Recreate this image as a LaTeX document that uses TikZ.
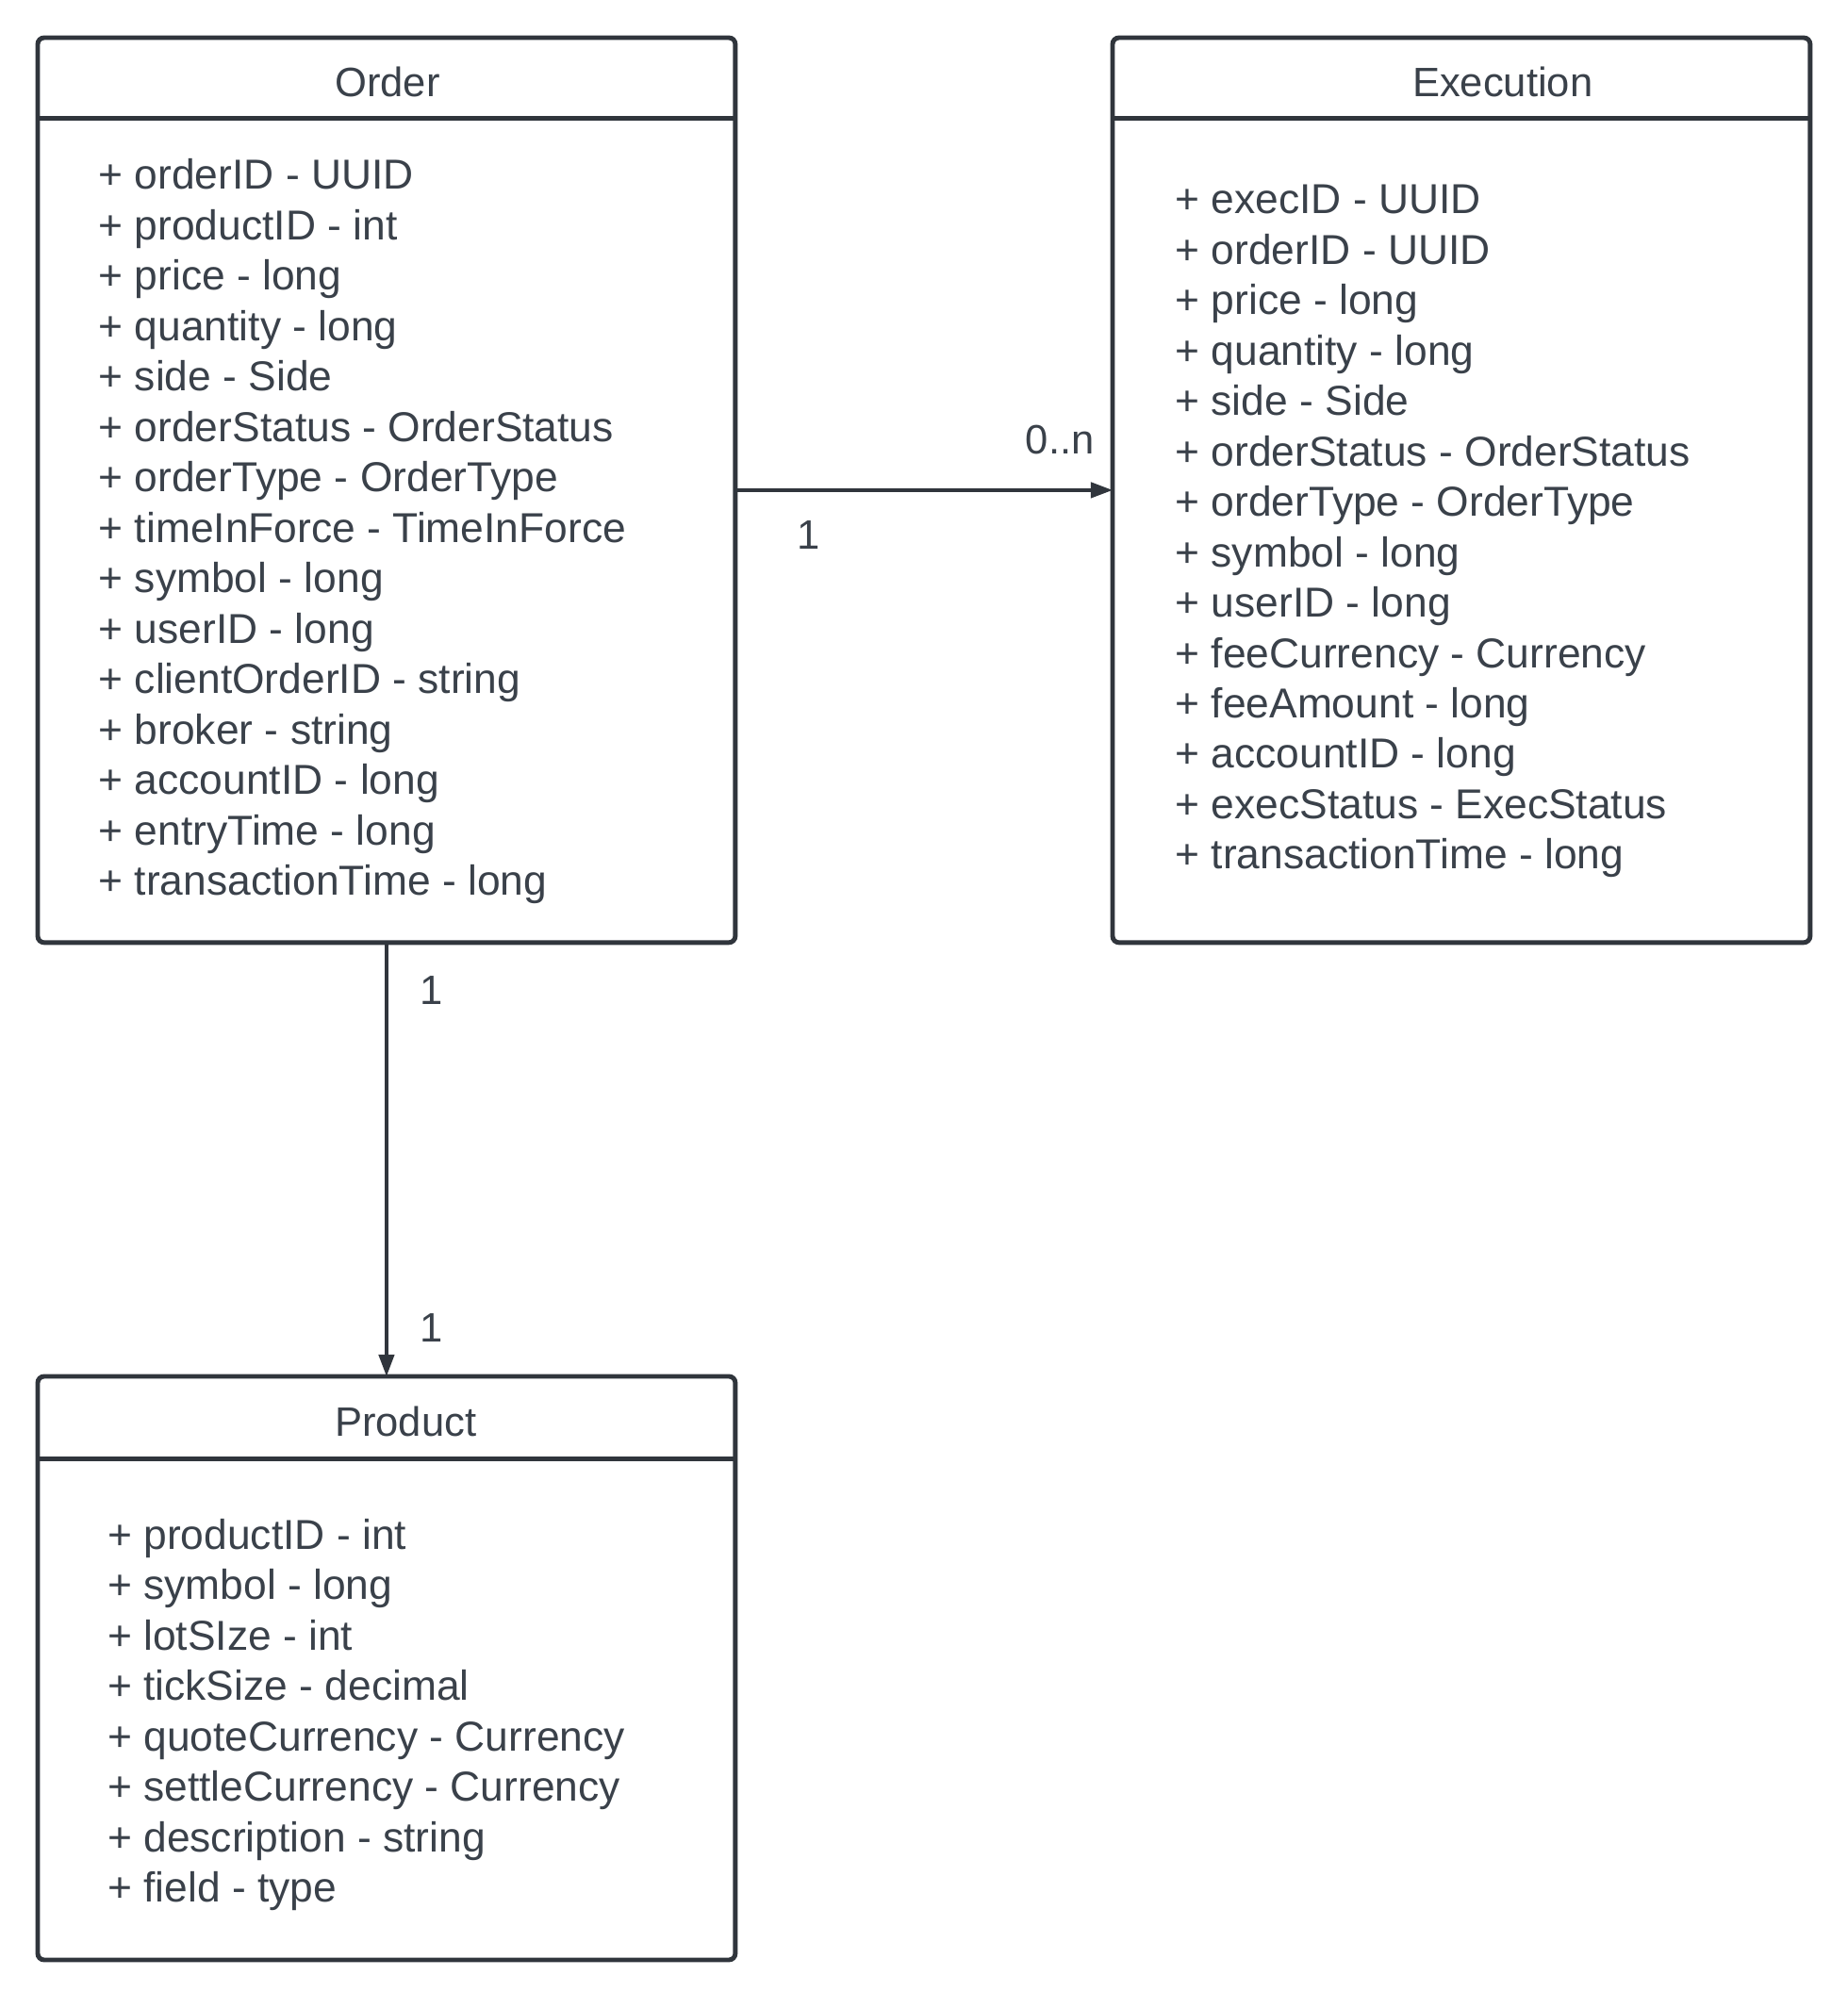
\documentclass[tikz,border=0pt]{standalone}
\usepackage{fontspec}
\setmainfont{Liberation Sans}
\usetikzlibrary{arrows.meta}
\definecolor{ink}{HTML}{3A414A}
\definecolor{stroke}{HTML}{30353C}
\begin{document}
\begin{tikzpicture}[x=0.5pt,y=-0.5pt,
  umlbox/.style={draw=stroke, line width=1.8pt, rounded corners=2.5pt, inner sep=0pt, outer sep=0pt},
  divider/.style={draw=stroke, line width=1.8pt},
  txt/.style={inner sep=0pt, text=ink, font=\fontsize{16}{19.65}\selectfont},
  attr/.style={txt, anchor=base west, font=\fontsize{16.3}{19.65}\selectfont},
  title/.style={txt, anchor=base},
  mult/.style={txt, anchor=base},
  assoc/.style={draw=stroke, line width=1.3pt, -{Triangle[length=8.5pt,width=6pt]}},
]
\useasboundingbox (0,0) rectangle (1440,1565);
\fill[white] (0,0) rectangle (1440,1565);

% Boxes
\node[umlbox, minimum width=271.8pt, minimum height=352.6pt] (order) at (301.2,382) {};
\node[umlbox, minimum width=271.8pt, minimum height=352.6pt] (exec) at (1138.8,382) {};
\node[umlbox, minimum width=271.8pt, minimum height=227.4pt] (product) at (301.2,1300.1) {};

% Dividers
\draw[divider] ([yshift=-31.5pt]order.north west) -- ([yshift=-31.5pt]order.north east);
\draw[divider] ([yshift=-31.5pt]exec.north west) -- ([yshift=-31.5pt]exec.north east);
\draw[divider] ([yshift=-32pt]product.north west) -- ([yshift=-32pt]product.north east);

% Titles
\node[title] (ordertitle) at (302,75) {Order};
\node[title] (exectitle) at (1171,75) {Execution};
\node[title] (producttitle) at (316,1119) {Product};

% Order attributes
\foreach \t [count=\i] in {+ orderID - UUID, + productID - int, + price - long, + quantity - long, + side - Side, + orderStatus - OrderStatus, + orderType - OrderType, + timeInForce - TimeInForce, + symbol - long, + userID - long, + clientOrderID - string, + broker - string, + accountID - long, + entryTime - long, + transactionTime - long}
  \node[attr] (oa\i) at (76.5,{147.5+(\i-1)*39.3}) {\t};

% Execution attributes
\foreach \t [count=\i] in {+ execID - UUID, + orderID - UUID, + price - long, + quantity - long, + side - Side, + orderStatus - OrderStatus, + orderType - OrderType, + symbol - long, + userID - long, + feeCurrency - Currency, + feeAmount - long, + accountID - long, + execStatus - ExecStatus, + transactionTime - long}
  \node[attr] (ea\i) at (915.5,{166.5+(\i-1)*39.3}) {\t};

% Product attributes
\foreach \t [count=\i] in {+ productID - int, + symbol - long, + lotSIze - int, + tickSize - decimal, + quoteCurrency - Currency, + settleCurrency - Currency, + description - string, + field - type}
  \node[attr] (pa\i) at (83.5,{1207.5+(\i-1)*39.3}) {\t};

% Connectors
\draw[assoc] (order.east) -- (exec.west);
\draw[assoc] (order.south) -- (product.north);

% Multiplicities
\node[mult] (m1) at (826,354) {0..n};
\node[mult] (m2) at (630,428) {1};
\node[mult] (m3) at (336,783) {1};
\node[mult] (m4) at (336,1046) {1};
\end{tikzpicture}
\end{document}
